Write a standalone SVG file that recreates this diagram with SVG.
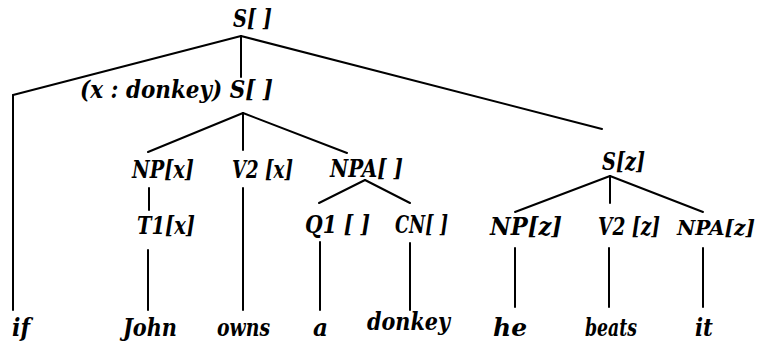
<svg xmlns="http://www.w3.org/2000/svg" width="761" height="347" viewBox="0 0 761 347">
<style>
.n{font-family:"DejaVu Serif","Liberation Serif",serif;font-size:24px;font-weight:bold;font-style:italic;fill:#000}
.w{font-family:"DejaVu Serif","Liberation Serif",serif;font-size:24px;font-weight:bold;font-style:italic;fill:#000}
.c line{stroke:#000;stroke-width:2;stroke-linecap:round}
</style>
<rect width="761" height="347" fill="#fff"/>
<g class="c" id="connectors">
<line x1="241" y1="36" x2="13" y2="95"/>
<line x1="13" y1="95" x2="13" y2="310"/>
<line x1="241" y1="36" x2="241" y2="77"/>
<line x1="241" y1="36" x2="602" y2="129"/>
<line x1="243" y1="113" x2="148" y2="152"/>
<line x1="243" y1="113" x2="243" y2="150"/>
<line x1="243" y1="113" x2="347" y2="153"/>
<line x1="149" y1="188" x2="149" y2="210"/>
<line x1="148" y1="250" x2="148" y2="310"/>
<line x1="243" y1="188" x2="243" y2="310"/>
<line x1="365" y1="180" x2="319" y2="203"/>
<line x1="365" y1="180" x2="410" y2="203"/>
<line x1="320" y1="242" x2="320" y2="310"/>
<line x1="410" y1="243" x2="410" y2="310"/>
<line x1="610" y1="176" x2="515" y2="212"/>
<line x1="610" y1="176" x2="610" y2="203"/>
<line x1="610" y1="176" x2="703" y2="212"/>
<line x1="515" y1="248" x2="515" y2="307"/>
<line x1="609" y1="248" x2="609" y2="307"/>
<line x1="703" y1="248" x2="703" y2="307"/>
</g>
<g id="root"><text class="n" x="233" y="27" textLength="39" lengthAdjust="spacingAndGlyphs">S[ ]</text></g>
<g id="s1"><text class="n" x="80" y="98" textLength="193" lengthAdjust="spacingAndGlyphs">(x : donkey) S[ ]</text></g>
<g id="npx"><text class="n" x="132" y="178" textLength="62" lengthAdjust="spacingAndGlyphs">NP[x]</text></g>
<g id="v2x"><text class="n" x="232" y="178" textLength="61" lengthAdjust="spacingAndGlyphs">V2 [x]</text></g>
<g id="npa1"><text class="n" x="330" y="177" textLength="73" lengthAdjust="spacingAndGlyphs">NPA[ ]</text></g>
<g id="t1x"><text class="n" x="137" y="234" textLength="58" lengthAdjust="spacingAndGlyphs">T1[x]</text></g>
<g id="q1"><text class="n" x="305" y="233" textLength="65" lengthAdjust="spacingAndGlyphs">Q1 [ ]</text></g>
<g id="cn"><text class="n" x="395" y="233" textLength="53" lengthAdjust="spacingAndGlyphs">CN[ ]</text></g>
<g id="sz"><text class="n" x="602" y="170" textLength="43" lengthAdjust="spacingAndGlyphs">S[z]</text></g>
<g id="npz"><text class="n" x="490" y="235" textLength="72" lengthAdjust="spacingAndGlyphs">NP[z]</text></g>
<g id="v2z"><text class="n" x="598" y="235" textLength="62" lengthAdjust="spacingAndGlyphs">V2 [z]</text></g>
<g id="npaz"><text class="n" x="677" y="235" style="font-size:20px" textLength="78" lengthAdjust="spacingAndGlyphs">NPA[z]</text></g>
<g id="w-if"><text class="w" x="12" y="336" textLength="18" lengthAdjust="spacingAndGlyphs">if</text></g>
<g id="w-john"><text class="w" x="123" y="336" textLength="54" lengthAdjust="spacingAndGlyphs">John</text></g>
<g id="w-owns"><text class="w" x="217" y="336" textLength="53" lengthAdjust="spacingAndGlyphs">owns</text></g>
<g id="w-a"><text class="w" x="313" y="336" textLength="15" lengthAdjust="spacingAndGlyphs">a</text></g>
<g id="w-donkey"><text class="w" x="367" y="330" textLength="83" lengthAdjust="spacingAndGlyphs">donkey</text></g>
<g id="w-he"><text class="w" x="493" y="336" textLength="34" lengthAdjust="spacingAndGlyphs">he</text></g>
<g id="w-beats"><text class="w" x="585" y="336" textLength="52" lengthAdjust="spacingAndGlyphs">beats</text></g>
<g id="w-it"><text class="w" x="695" y="336" textLength="18" lengthAdjust="spacingAndGlyphs">it</text></g>
</svg>
